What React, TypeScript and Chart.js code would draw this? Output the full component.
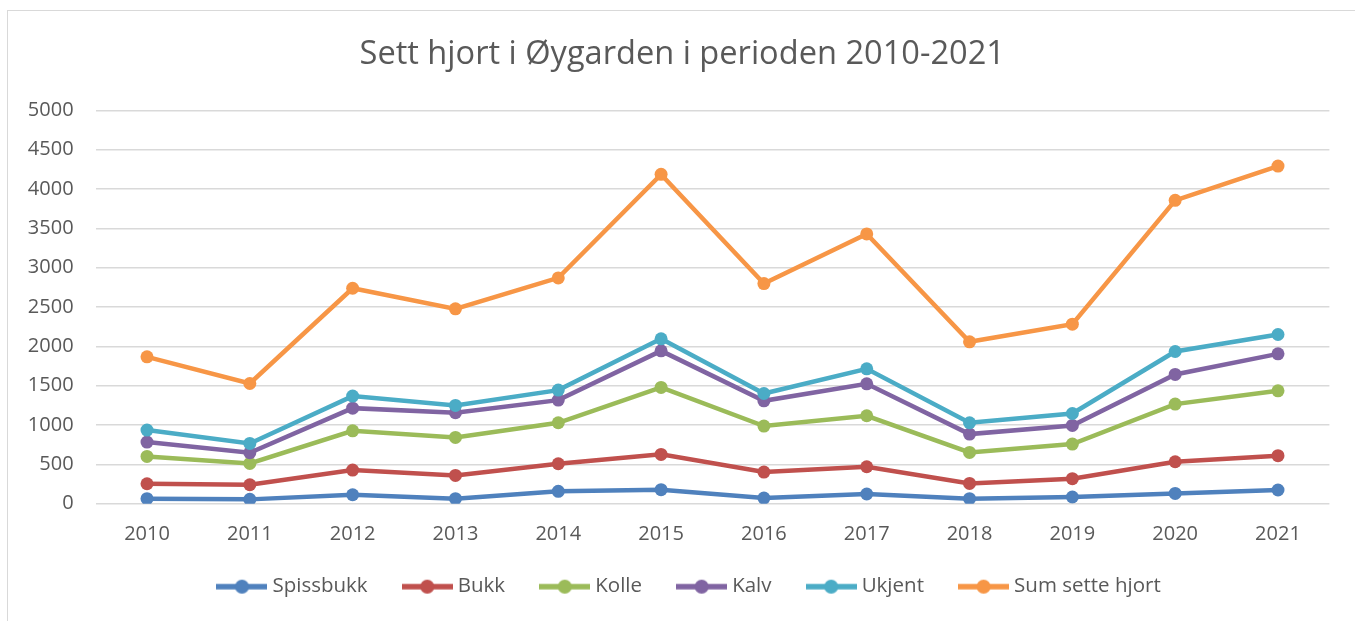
import React, { useEffect, useRef } from "react";
import { Chart, registerables } from "chart.js";

Chart.register(...registerables);

const years = ["2010", "2011", "2012", "2013", "2014", "2015", "2016", "2017", "2018", "2019", "2020", "2021"];
const spissbukk = [64, 55, 114, 64, 157, 178, 72, 123, 64, 85, 131, 174];
const bukk = [254, 241, 428, 360, 508, 627, 402, 470, 258, 318, 533, 610];
const kolle = [601, 512, 927, 843, 1029, 1478, 987, 1118, 652, 758, 1266, 1435];
const kalv = [783, 648, 1215, 1156, 1317, 1943, 1308, 1524, 885, 995, 1643, 1905];
const ukjent = [936, 766, 1368, 1249, 1444, 2096, 1401, 1715, 1029, 1147, 1935, 2151];
const sumSette = [1867, 1528, 2739, 2477, 2871, 4187, 2799, 3430, 2058, 2282, 3857, 4293];

const seriesNames = ["Spissbukk", "Bukk", "Kolle", "Kalv", "Ukjent", "Sum sette hjort"];
const seriesData = [spissbukk, bukk, kolle, kalv, ukjent, sumSette];
const seriesColors = ["#4F81BD", "#C0504D", "#9BBB59", "#8064A2", "#4BACC6", "#F79646"];

const titleText = "Sett hjort i Øygarden i perioden 2010-2021";
const FONT = "'Open Sans', 'DejaVu Sans', sans-serif";
const TEXT_COLOR = "#595959";

function makeLegendImage(color: string): HTMLCanvasElement {
  const c = document.createElement("canvas");
  c.width = 51;
  c.height = 16;
  const ctx = c.getContext("2d")!;
  ctx.strokeStyle = color;
  ctx.lineWidth = 5.5;
  ctx.beginPath();
  ctx.moveTo(0, 8);
  ctx.lineTo(51, 8);
  ctx.stroke();
  ctx.fillStyle = color;
  ctx.beginPath();
  ctx.arc(25.5, 8, 7, 0, Math.PI * 2);
  ctx.fill();
  return c;
}

const framePlugin = {
  id: "frame",
  beforeDraw(chart: any) {
    const { ctx, width, height } = chart;
    ctx.save();
    ctx.fillStyle = "#ffffff";
    ctx.fillRect(0, 0, width, height);
    ctx.strokeStyle = "#d9d9d9";
    ctx.lineWidth = 1;
    ctx.strokeRect(0.5, 0.5, width + 10, height + 10);
    ctx.restore();
  },
};

// Nudges the title and legend boxes after layout so they sit where the reference puts them.
const boxShiftPlugin = {
  id: "boxShift",
  afterLayout(chart: any) {
    const lg = chart.legend;
    if (lg) {
      lg.top -= 9.2;
      lg.bottom -= 9.2;
      lg.left += 23;
      lg.right += 23;
    }
    const tb = chart.titleBlock;
    if (tb) {
      tb.left += 14;
      tb.right += 14;
    }
  },
};

export default function App() {
  const canvasRef = useRef<HTMLCanvasElement | null>(null);

  useEffect(() => {
    document.body.style.margin = "0";
    document.body.style.overflow = "hidden";
    const canvas = canvasRef.current;
    if (!canvas) return;
    const legendImgs = seriesColors.map(makeLegendImage);

    const chart = new Chart(canvas, {
      type: "line",
      data: {
        labels: years,
        datasets: seriesNames.map((name, i) => ({
          label: name,
          data: seriesData[i],
          borderColor: seriesColors[i],
          backgroundColor: seriesColors[i],
          borderWidth: 4.5,
          pointRadius: 6.5,
          pointHoverRadius: 6.5,
          pointBorderWidth: 0,
          pointBackgroundColor: seriesColors[i],
          tension: 0,
          fill: false,
          order: seriesNames.length - i,
        })),
      },
      options: {
        responsive: false,
        animation: false,
        layout: { padding: { left: 0, right: 25.6, top: 0, bottom: 4.9 } },
        plugins: {
          title: {
            display: true,
            text: titleText,
            color: TEXT_COLOR,
            font: { family: FONT, size: 32.6, weight: "normal" },
            padding: { top: 25.6, bottom: 35.7 },
          },
          legend: {
            display: true,
            position: "bottom",
            labels: {
              usePointStyle: true,
              pointStyleWidth: 40.5,
              padding: 39.4,
              color: TEXT_COLOR,
              font: { family: FONT, size: 20.5 },
              generateLabels: (ch: any) => {
                const items = (Chart.defaults.plugins.legend.labels as any).generateLabels(ch);
                return items.map((it: any) => ({ ...it, pointStyle: legendImgs[it.datasetIndex] }));
              },
              sort: (a: any, b: any) => a.datasetIndex - b.datasetIndex,
            },
          },
          tooltip: { enabled: false },
        },
        scales: {
          x: {
            type: "category",
            offset: true,
            grid: { display: false, drawTicks: false },
            border: { display: false },
            ticks: { color: TEXT_COLOR, font: { family: FONT, size: 20 }, padding: 18.5, maxRotation: 0 },
            afterFit: (scale: any) => {
              scale.height = 42.5;
            },
          },
          y: {
            min: 0,
            max: 5000,
            ticks: {
              stepSize: 500,
              color: TEXT_COLOR,
              font: { family: FONT, size: 20 },
              padding: 22,
              callback: (v: any) => String(v),
            },
            grid: { color: "#d9d9d9", lineWidth: 1.5, drawTicks: false },
            border: { display: false },
            afterFit: (scale: any) => {
              scale.width = 88.6;
            },
          },
        },
      } as any,
      plugins: [framePlugin, boxShiftPlugin],
    });
    return () => chart.destroy();
  }, []);

  return (
    <div style={{ position: "absolute", left: 7, top: 10, width: 1348, height: 611 }}>
      <canvas ref={canvasRef} width={1348} height={611} style={{ display: "block" }} />
    </div>
  );
}
